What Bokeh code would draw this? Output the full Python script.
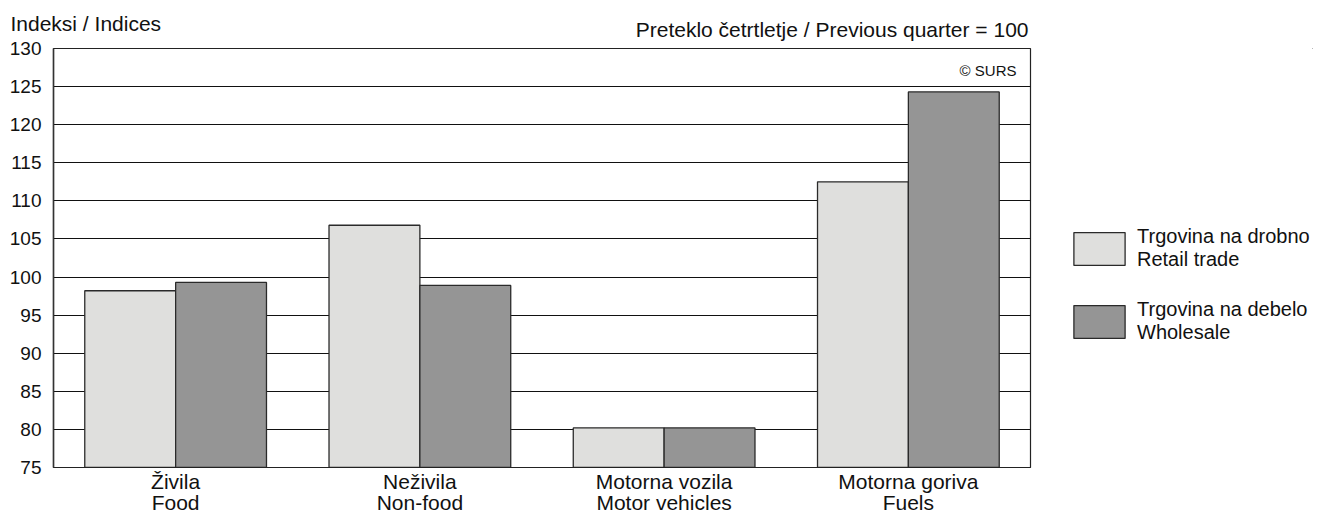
from bokeh.plotting import figure
from bokeh.layouts import row
from bokeh.models import (ColumnDataSource, FactorRange, Range1d, FixedTicker, Label,
                          Legend, LegendItem)
from bokeh.transform import dodge
from bokeh.embed import file_html
from bokeh.resources import INLINE

# ---- data ----
categories = ["Živila\nFood", "Neživila\nNon-food", "Motorna vozila\nMotor vehicles", "Motorna goriva\nFuels"]
retail = [98.2, 106.8, 80.2, 112.5]
wholesale = [99.3, 98.9, 80.2, 124.3]
series_names = ["Trgovina na drobno\nRetail trade", "Trgovina na debelo\nWholesale"]
yticks = [75, 80, 85, 90, 95, 100, 105, 110, 115, 120, 125, 130]
y_title = "Indeksi / Indices"
base_note = "Preteklo četrtletje / Previous quarter = 100"
source_note = "© SURS"

FONT = "Liberation Sans"
TXT = "#111111"
RETAIL_C = "#dfdfdd"
WHOLESALE_C = "#959595"
EDGE = "#2a2a2a"

H = 516
W_MAIN = 1032
W_LEG = 1313 - W_MAIN
B_LEFT, B_RIGHT, B_TOP, B_BOTTOM = 53, 2, 48, 49
FRAME_W = W_MAIN - B_LEFT - B_RIGHT
FRAME_H = H - B_TOP - B_BOTTOM

src = ColumnDataSource(dict(cats=categories, retail=retail, wholesale=wholesale))

p = figure(width=W_MAIN, height=H,
           x_range=FactorRange(factors=categories, range_padding=0, factor_padding=0),
           y_range=Range1d(yticks[0], yticks[-1]),
           output_backend="svg", toolbar_location=None,
           min_border_left=B_LEFT, min_border_right=B_RIGHT,
           min_border_top=B_TOP, min_border_bottom=B_BOTTOM)

bw = 0.372
r1 = p.vbar(x=dodge("cats", -bw / 2, range=p.x_range), top="retail", bottom=yticks[0], width=bw,
            source=src, fill_color=RETAIL_C, line_color=EDGE, line_width=1.3)
r2 = p.vbar(x=dodge("cats", bw / 2, range=p.x_range), top="wholesale", bottom=yticks[0], width=bw,
            source=src, fill_color=WHOLESALE_C, line_color=EDGE, line_width=1.3)

p.xgrid.grid_line_color = None
p.ygrid.grid_line_color = "#111111"
p.ygrid.grid_line_width = 1.2
p.ygrid.level = "underlay"

p.outline_line_color = "#222222"
p.outline_line_width = 1.2

# y axis
p.yaxis.ticker = FixedTicker(ticks=yticks)
p.yaxis.major_tick_line_color = None
p.yaxis.minor_tick_line_color = None
p.yaxis.major_tick_out = 0
p.yaxis.major_tick_in = 0
p.yaxis.axis_line_color = "#333333"
p.yaxis.axis_line_width = 1.5
p.yaxis.major_label_text_font = FONT
p.yaxis.major_label_text_font_size = "19px"
p.yaxis.major_label_text_color = TXT
p.yaxis.major_label_standoff = 12

# x axis
p.xaxis.major_tick_line_color = None
p.xaxis.minor_tick_line_color = None
p.xaxis.major_tick_out = 0
p.xaxis.major_tick_in = 0
p.xaxis.axis_line_color = "#222222"
p.xaxis.major_label_text_font = FONT
p.xaxis.major_label_text_font_size = "21px"
p.xaxis.major_label_text_color = TXT
p.xaxis.major_label_text_line_height = 0.92
p.xaxis.major_label_standoff = 2
p.xaxis.major_label_orientation = "horizontal"

# header texts, placed in the "above" side panel (outside the frame)
px_per_cat = FRAME_W / len(categories)
px_per_unit = FRAME_H / (yticks[-1] - yticks[0])
p.add_layout(Label(x=-43 / px_per_cat, y=yticks[-1] + 25 / px_per_unit, text=y_title,
                   text_font=FONT, text_font_size="21px", text_color=TXT,
                   text_baseline="middle"), "above")
p.add_layout(Label(x=len(categories) - 2 / px_per_cat, y=yticks[-1] + 19.5 / px_per_unit,
                   text=base_note, text_font=FONT, text_font_size="21px", text_color=TXT,
                   text_align="right", text_baseline="middle"), "above")
# source note inside frame
p.add_layout(Label(x=FRAME_W - 14, y=FRAME_H - 22, x_units="screen", y_units="screen",
                   text=source_note, text_font=FONT, text_font_size="15px", text_color=TXT,
                   text_align="right", text_baseline="middle"))

# ---- legend figure ----
lg = figure(width=W_LEG, height=H, x_range=Range1d(0, 1), y_range=Range1d(0, 1),
            x_axis_type=None, y_axis_type=None, output_backend="svg", toolbar_location=None,
            min_border=0, outline_line_color=None)
lg.grid.visible = False
# legend proxies: same data, drawn outside this figure's visible range
l1 = lg.vbar(x=10, top="retail", bottom=yticks[0], width=1, source=src,
             fill_color=RETAIL_C, line_color=EDGE, line_width=1.3)
l2 = lg.vbar(x=10, top="wholesale", bottom=yticks[0], width=1, source=src,
             fill_color=WHOLESALE_C, line_color=EDGE, line_width=1.3)
legend = Legend(items=[LegendItem(label=series_names[0], renderers=[l1]),
                       LegendItem(label=series_names[1], renderers=[l2])],
                location=(35, 123), orientation="vertical",
                glyph_width=64, glyph_height=41, label_standoff=6,
                label_text_font=FONT, label_text_font_size="20px", label_text_color=TXT,
                label_text_line_height=1.3, spacing=27, padding=0, margin=0,
                border_line_color=None, background_fill_alpha=0)
lg.add_layout(legend, "center")

layout = row(p, lg, spacing=0)
open("out.html", "w").write(file_html(layout, INLINE))
